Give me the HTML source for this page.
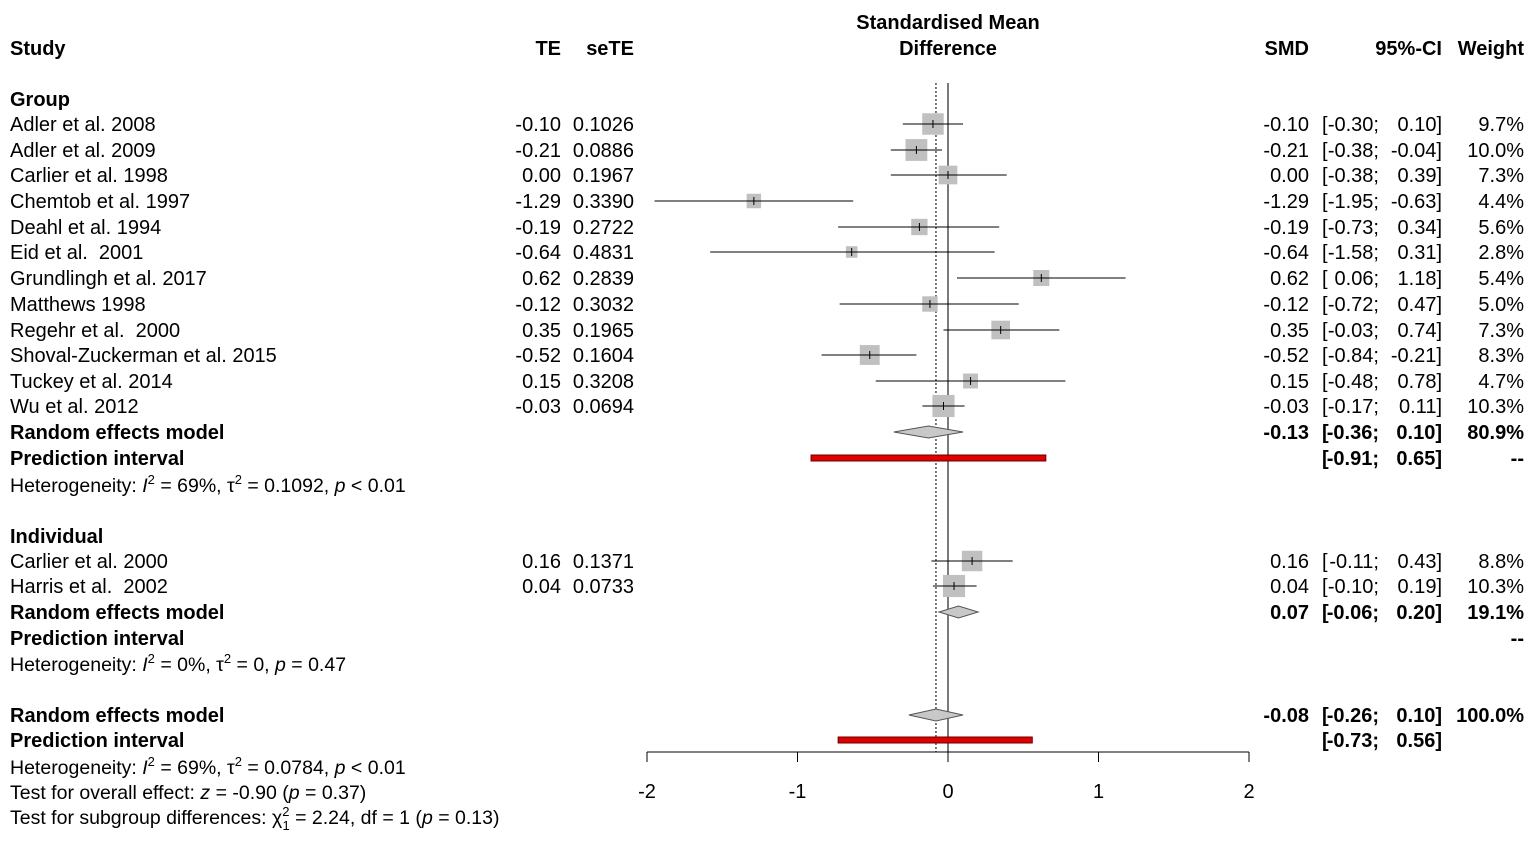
<!DOCTYPE html>
<html><head><meta charset="utf-8"><style>
body{margin:0;background:#fff;}
svg{font-family:"Liberation Sans",Arial,sans-serif;font-size:20px;}
text{white-space:pre;}
.b{font-weight:bold;}
</style></head><body>
<svg id="c" width="1535" height="837" xmlns="http://www.w3.org/2000/svg"></svg>
<script>
const studies=["Adler et al. 2008","Adler et al. 2009","Carlier et al. 1998","Chemtob et al. 1997","Deahl et al. 1994","Eid et al.  2001","Grundlingh et al. 2017","Matthews 1998","Regehr et al.  2000","Shoval-Zuckerman et al. 2015","Tuckey et al. 2014","Wu et al. 2012","Carlier et al. 2000","Harris et al.  2002"];
const te=[-0.10,-0.21,0.00,-1.29,-0.19,-0.64,0.62,-0.12,0.35,-0.52,0.15,-0.03,0.16,0.04];
const sete=["0.1026","0.0886","0.1967","0.3390","0.2722","0.4831","0.2839","0.3032","0.1965","0.1604","0.3208","0.0694","0.1371","0.0733"];
const lower=[-0.30,-0.38,-0.38,-1.95,-0.73,-1.58,0.06,-0.72,-0.03,-0.84,-0.48,-0.17,-0.11,-0.10];
const upper=[0.10,-0.04,0.39,-0.63,0.34,0.31,1.18,0.47,0.74,-0.21,0.78,0.11,0.43,0.19];
const weight=[9.7,10.0,7.3,4.4,5.6,2.8,5.4,5.0,7.3,8.3,4.7,10.3,8.8,10.3];
const rowY=[124,150,175,201,227,252,278,304,330,355,381,406,561,586];
const pooledEst=[-0.13,0.07,-0.08];
const pooledLo=[-0.36,-0.06,-0.26];
const pooledHi=[0.10,0.20,0.10];
const pooledW=["80.9%","19.1%","100.0%"];
const pooledY=[432,612,715];
const piLo=[-0.91,null,-0.73];
const piHi=[0.65,null,0.56];
const piY=[458,638,740];
const ticks=[-2,-1,0,1,2];

const svg=document.getElementById('c');
const NS="http://www.w3.org/2000/svg";
const X=v=>948+v*150.5;
function el(tag,attrs,name){const e=document.createElementNS(NS,tag);for(const k in attrs)e.setAttribute(k,attrs[k]);


svg.appendChild(e);return e;}
function txt(s,x,y,name,opts={}){const t=el('text',{x:x,y:y,'text-anchor':opts.a||'start',class:opts.b?'b':''},name);t.textContent=s;return t;}
function fmt(v){return (v<0?'-':'')+Math.abs(v).toFixed(2);}
function ci(l,h,y,name,b){
  txt('[',1322,y,name+'-open',{b:b});
  txt(fmt(l)+';',1379,y,name+'-lower',{a:'end',b:b});
  txt(fmt(h)+']',1442,y,name+'-upper',{a:'end',b:b});
}
const BY=7;
txt('Study',10,55,'study-header',{b:1});
txt('TE',561,55,'te-header',{a:'end',b:1});
txt('seTE',634,55,'sete-header',{a:'end',b:1});
txt('Standardised Mean',948,29,'axis-title-line1',{a:'middle',b:1});
txt('Difference',948,55,'axis-title-line2',{a:'middle',b:1});
txt('SMD',1309,55,'smd-header',{a:'end',b:1});
txt('95%-CI',1442,55,'ci-header',{a:'end',b:1});
txt('Weight',1524,55,'weight-header',{a:'end',b:1});
txt('Group',10,106,'group-subgroup-label',{b:1});
txt('Individual',10,543,'individual-subgroup-label',{b:1});
el('line',{x1:X(0),x2:X(0),y1:83,y2:752,stroke:'#333','stroke-width':1.3},'null-effect-line');
el('line',{x1:X(pooledEst[2]),x2:X(pooledEst[2]),y1:83,y2:752,stroke:'#333','stroke-width':1.3,'stroke-dasharray':'2,2'},'overall-effect-line');
studies.forEach((s,i)=>{const y=rowY[i];
txt(s,10,y+BY,'study-name');
txt(fmt(te[i]),561,y+BY,'te-value',{a:'end'});
txt(sete[i],634,y+BY,'sete-value',{a:'end'});
txt(fmt(te[i]),1309,y+BY,'smd-value',{a:'end'});
ci(lower[i],upper[i],y+BY,'ci-value',0);
txt(weight[i].toFixed(1)+'%',1524,y+BY,'weight-value',{a:'end'});
const s2=6.9*Math.sqrt(weight[i]);
el('rect',{x:X(te[i])-s2/2,y:y-s2/2,width:s2,height:s2,fill:'#c0c0c0'},'study-box');
el('line',{x1:X(lower[i]),x2:X(upper[i]),y1:y,y2:y,stroke:'#000','stroke-width':1},'study-ci-line');
el('line',{x1:X(te[i]),x2:X(te[i]),y1:y-4,y2:y+4,stroke:'#000','stroke-width':1},'study-point');
});
pooledEst.forEach((e,i)=>{const y=pooledY[i];
txt('Random effects model',10,y+BY,'random-effects-label',{b:1});
txt(fmt(e),1309,y+BY,'pooled-smd',{a:'end',b:1});
ci(pooledLo[i],pooledHi[i],y+BY,'pooled-ci',1);
txt(pooledW[i],1524,y+BY,'pooled-weight',{a:'end',b:1});
el('polygon',{points:`${X(pooledLo[i])},${y} ${X(e)},${y-6} ${X(pooledHi[i])},${y} ${X(e)},${y+6}`,fill:'#c8c8c8',stroke:'#555','stroke-width':1},'pooled-diamond');
});
piY.forEach((y,i)=>{
txt('Prediction interval',10,y+BY,'prediction-interval-label',{b:1});
if(piLo[i]===null){txt('--',1524,y+BY,'pi-missing',{a:'end',b:1});return;}
ci(piLo[i],piHi[i],y+BY,'pi-ci',1);
el('rect',{x:X(piLo[i]),y:y-3,width:X(piHi[i])-X(piLo[i]),height:6,fill:'#e00000',stroke:'#600','stroke-width':1},'prediction-interval-bar');
});
txt('--',1524,458+BY,'pi-weight',{a:'end',b:1});
function het(y,html,name){const t=el('text',{x:10,y:y},name);t.style.fontSize='19.5px';t.innerHTML=html;}
het(492,'Heterogeneity: <tspan font-style="italic">I</tspan><tspan dy="-8" font-size="13">2</tspan><tspan dy="8"> = 69%, τ</tspan><tspan dy="-8" font-size="13">2</tspan><tspan dy="8"> = 0.1092, </tspan><tspan font-style="italic">p</tspan> &lt; 0.01','group-heterogeneity');
het(671,'Heterogeneity: <tspan font-style="italic">I</tspan><tspan dy="-8" font-size="13">2</tspan><tspan dy="8"> = 0%, τ</tspan><tspan dy="-8" font-size="13">2</tspan><tspan dy="8"> = 0, </tspan><tspan font-style="italic">p</tspan> = 0.47','individual-heterogeneity');
het(774,'Heterogeneity: <tspan font-style="italic">I</tspan><tspan dy="-8" font-size="13">2</tspan><tspan dy="8"> = 69%, τ</tspan><tspan dy="-8" font-size="13">2</tspan><tspan dy="8"> = 0.0784, </tspan><tspan font-style="italic">p</tspan> &lt; 0.01','overall-heterogeneity');
het(799,'Test for overall effect: <tspan font-style="italic">z</tspan> = -0.90 (<tspan font-style="italic">p</tspan> = 0.37)','overall-effect-test');
het(824,'Test for subgroup differences: χ<tspan dy="-8" font-size="13">2</tspan><tspan dx="-7" dy="14" font-size="13">1</tspan><tspan dy="-6"> = 2.24, df = 1 (</tspan><tspan font-style="italic">p</tspan> = 0.13)','subgroup-test');
el('line',{x1:X(ticks[0]),x2:X(ticks[ticks.length-1]),y1:752,y2:752,stroke:'#000','stroke-width':1},'x-axis');
ticks.forEach(t=>{el('line',{x1:X(t),x2:X(t),y1:752,y2:762,stroke:'#000','stroke-width':1},'x-tick');
txt(String(t),X(t),798,'x-tick-label',{a:'middle'});});
</script>
</body></html>
